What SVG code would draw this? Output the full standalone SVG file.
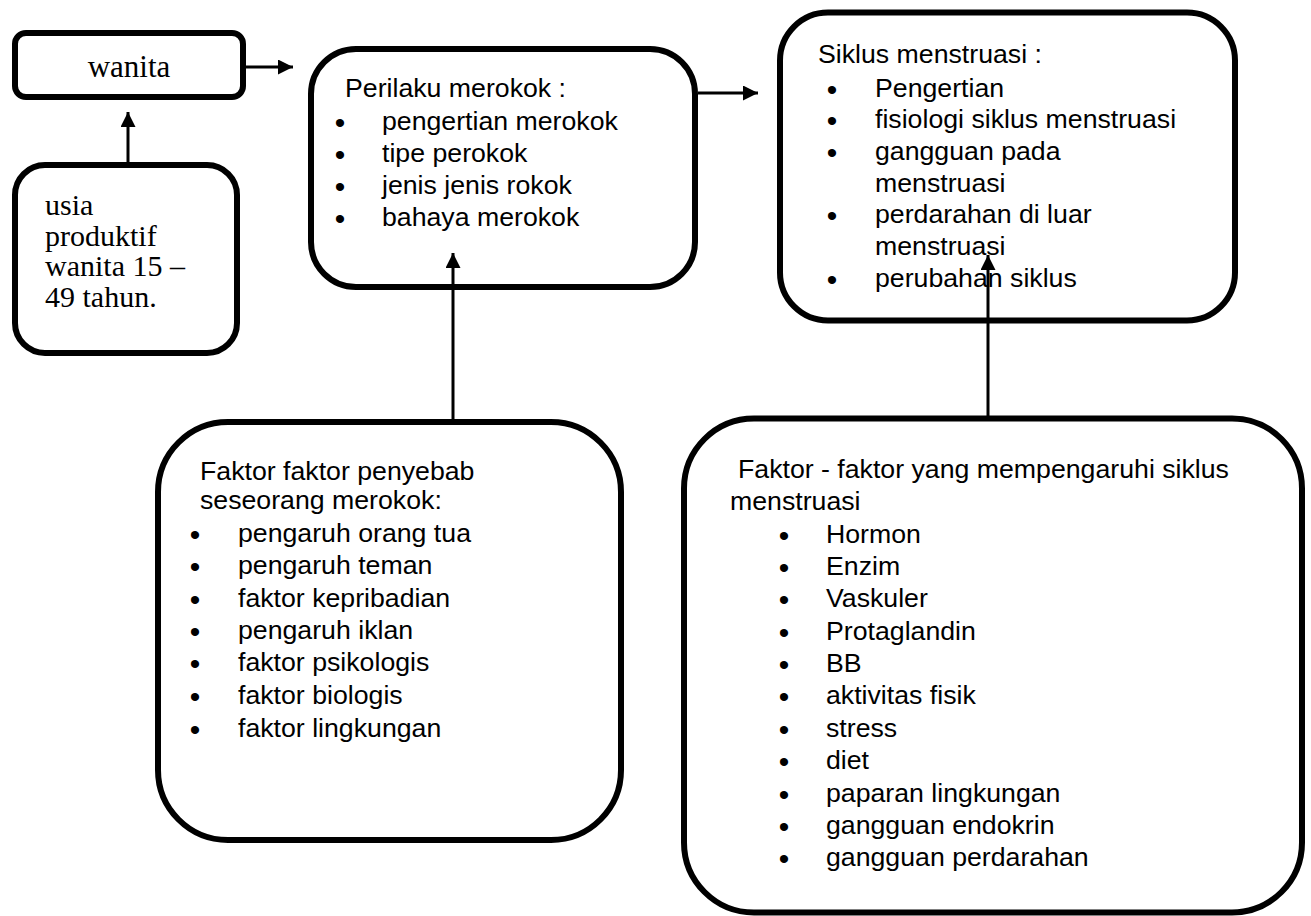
<svg xmlns="http://www.w3.org/2000/svg" width="1311" height="916" viewBox="0 0 1311 916">
<defs>
<marker id="arrow" markerUnits="userSpaceOnUse" markerWidth="16" markerHeight="16" refX="15" refY="7.5" orient="auto">
<path d="M0,0 L15,7.5 L0,15 z" fill="#000"/>
</marker>
<style>
.box{fill:#fff;stroke:#000;stroke-width:6}
.conn{stroke:#000;stroke-width:3;fill:none;marker-end:url(#arrow)}
.sans{font-family:"Liberation Sans",Arial,sans-serif;font-size:26.7px;fill:#000}
.serif{font-family:"Liberation Serif","Times New Roman",serif;font-size:31px;fill:#000}
.serif2{font-family:"Liberation Serif","Times New Roman",serif;font-size:30px;fill:#000}
.bul{font-family:"Liberation Sans",Arial,sans-serif;font-size:30px;fill:#000;text-anchor:middle}
</style>
</defs>
<rect width="1311" height="916" fill="#fff"/>
<g id="wanita">
<rect class="box" x="15" y="33" width="228" height="64" rx="11"/>
<text class="serif" x="129" y="77" text-anchor="middle">wanita</text>
</g>
<g id="usia">
<rect class="box" x="15" y="165" width="222" height="188" rx="30"/>
<text class="serif2" x="45" y="215">usia</text>
<text class="serif2" x="45" y="246">produktif</text>
<text class="serif2" x="45" y="276">wanita 15 –</text>
<text class="serif2" x="45" y="307">49 tahun.</text>
</g>
<g id="perilaku">
<rect class="box" x="311" y="49" width="384" height="238" rx="45"/>
<text class="sans" x="345" y="97">Perilaku merokok :</text>
<text class="bul" x="340" y="133">•</text><text class="sans" x="382" y="130">pengertian merokok</text>
<text class="bul" x="340" y="165">•</text><text class="sans" x="382" y="162">tipe perokok</text>
<text class="bul" x="340" y="197">•</text><text class="sans" x="382" y="194">jenis jenis rokok</text>
<text class="bul" x="340" y="229">•</text><text class="sans" x="382" y="226">bahaya merokok</text>
</g>
<g id="siklus">
<rect class="box" x="780" y="12.5" width="455" height="308" rx="48"/>
<text class="sans" x="818" y="63">Siklus menstruasi :</text>
<text class="bul" x="832" y="100">•</text><text class="sans" x="875" y="97">Pengertian</text>
<text class="bul" x="832" y="131">•</text><text class="sans" x="875" y="128">fisiologi siklus menstruasi</text>
<text class="bul" x="832" y="163">•</text><text class="sans" x="875" y="160">gangguan pada</text>
<text class="sans" x="875" y="192">menstruasi</text>
<text class="bul" x="832" y="226">•</text><text class="sans" x="875" y="223">perdarahan di luar</text>
<text class="sans" x="875" y="255">menstruasi</text>
<text class="bul" x="832" y="290">•</text><text class="sans" x="875" y="287">perubahan siklus</text>
</g>
<g id="faktor-merokok">
<rect class="box" x="158" y="422" width="463" height="418" rx="70"/>
<text class="sans" x="200" y="480">Faktor faktor penyebab</text>
<text class="sans" x="200" y="509">seseorang merokok:</text>
<text class="bul" x="195" y="545">•</text><text class="sans" x="238" y="542">pengaruh orang tua</text>
<text class="bul" x="195" y="577">•</text><text class="sans" x="238" y="574">pengaruh teman</text>
<text class="bul" x="195" y="610">•</text><text class="sans" x="238" y="607">faktor kepribadian</text>
<text class="bul" x="195" y="642">•</text><text class="sans" x="238" y="639">pengaruh iklan</text>
<text class="bul" x="195" y="674">•</text><text class="sans" x="238" y="671">faktor psikologis</text>
<text class="bul" x="195" y="707">•</text><text class="sans" x="238" y="704">faktor biologis</text>
<text class="bul" x="195" y="740">•</text><text class="sans" x="238" y="737">faktor lingkungan</text>
</g>
<g id="faktor-siklus">
<rect class="box" x="684" y="418.5" width="618" height="494" rx="70"/>
<text class="sans" x="738" y="478">Faktor - faktor yang mempengaruhi siklus</text>
<text class="sans" x="730" y="510">menstruasi</text>
<text class="bul" x="784" y="546">•</text><text class="sans" x="826" y="543">Hormon</text>
<text class="bul" x="784" y="578">•</text><text class="sans" x="826" y="575">Enzim</text>
<text class="bul" x="784" y="610">•</text><text class="sans" x="826" y="607">Vaskuler</text>
<text class="bul" x="784" y="643">•</text><text class="sans" x="826" y="640">Protaglandin</text>
<text class="bul" x="784" y="675">•</text><text class="sans" x="826" y="672">BB</text>
<text class="bul" x="784" y="707">•</text><text class="sans" x="826" y="704">aktivitas fisik</text>
<text class="bul" x="784" y="740">•</text><text class="sans" x="826" y="737">stress</text>
<text class="bul" x="784" y="772">•</text><text class="sans" x="826" y="769">diet</text>
<text class="bul" x="784" y="805">•</text><text class="sans" x="826" y="802">paparan lingkungan</text>
<text class="bul" x="784" y="837">•</text><text class="sans" x="826" y="834">gangguan endokrin</text>
<text class="bul" x="784" y="869">•</text><text class="sans" x="826" y="866">gangguan perdarahan</text>
</g>
<g id="connectors">
<path class="conn" d="M246,67 H293"/>
<path class="conn" d="M128,163 V112"/>
<path class="conn" d="M698,93 H758"/>
<path class="conn" d="M453,420 V253"/>
<path class="conn" d="M988,416 V255"/>
</g>
</svg>
